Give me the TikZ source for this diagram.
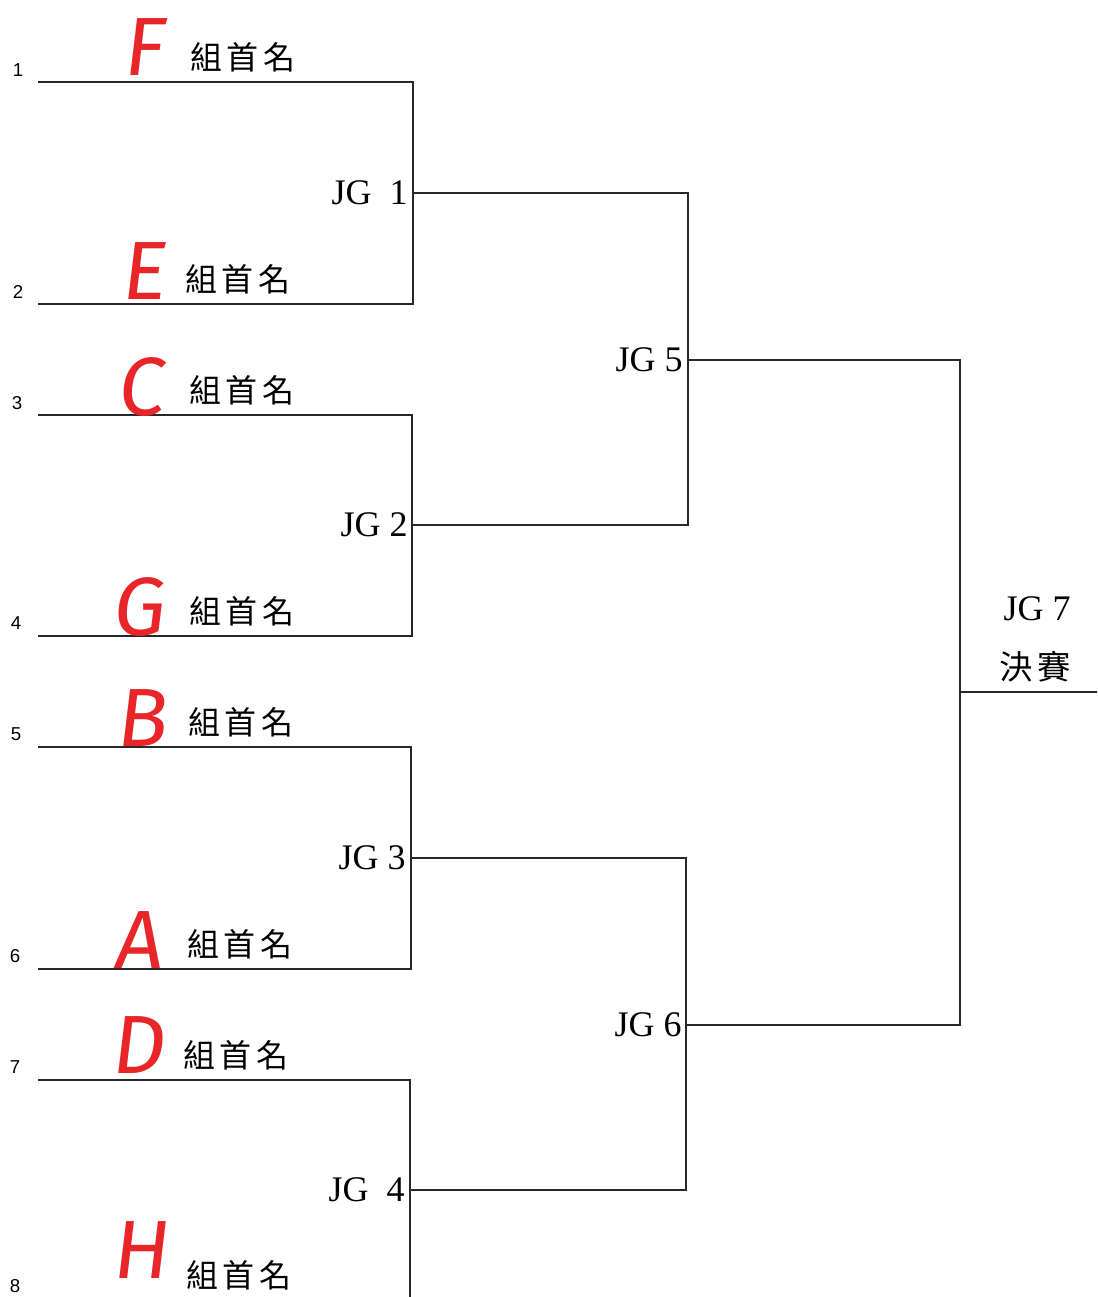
\documentclass[tikz,border=0pt]{standalone}
\usepackage{fontspec}
\setmainfont{Liberation Serif}
\newfontfamily\numfont{Liberation Sans}
\newfontfamily\cjk{Noto Sans CJK TC}
\newfontfamily\handfont[FakeSlant=0.12]{Fira Sans}
\definecolor{marker}{RGB}{232,38,42}
\definecolor{ink}{RGB}{40,40,40}
\newcommand{\zsm}{組\hspace{3.5pt}首\hspace{3.5pt}名}
\tikzset{
  wire/.style={draw=ink, line width=1.1pt},
  num/.style={font=\numfont\fontsize{14}{14}\selectfont, inner sep=0pt},
  team/.style={font=\handfont\fontsize{62}{62}\selectfont, text=marker, inner sep=0pt},
  tname/.style={font=\cjk\fontsize{24}{24}\selectfont, inner sep=0pt},
  jg/.style={font=\fontsize{27}{27}\selectfont, inner sep=0pt, anchor=east},
}
\begin{document}
\begin{tikzpicture}[x=0.75pt,y=-0.75pt]
\clip (0,0) rectangle (1097,1297);
\useasboundingbox (0,0) rectangle (1097,1297);
\fill[white] (0,0) rectangle (1097,1297);
% round 1 line coordinates
\coordinate (s1) at (38,82);   \coordinate (e1) at (413,82);
\coordinate (s2) at (38,304);  \coordinate (e2) at (413,304);
\coordinate (s3) at (38,415);  \coordinate (e3) at (412,415);
\coordinate (s4) at (38,636);  \coordinate (e4) at (412,636);
\coordinate (s5) at (38,747);  \coordinate (e5) at (411,747);
\coordinate (s6) at (38,969);  \coordinate (e6) at (411,969);
\coordinate (s7) at (38,1080); \coordinate (e7) at (410,1080);
\coordinate (s8) at (38,1302); \coordinate (e8) at (410,1302);
% game points
\coordinate (g1) at (413,193); \coordinate (g1e) at (688,193);
\coordinate (g2) at (412,525); \coordinate (g2e) at (688,525);
\coordinate (g3) at (411,858); \coordinate (g3e) at (686,858);
\coordinate (g4) at (410,1190); \coordinate (g4e) at (686,1190);
\coordinate (g5) at (688,360); \coordinate (g5e) at (960,360);
\coordinate (g6) at (686,1025); \coordinate (g6e) at (960,1025);
\coordinate (g7) at (960,692); \coordinate (g7e) at (1100,692);
% bracket lines
\draw[wire] (s1) -- (e1) -- (e2) -- (s2);
\draw[wire] (s3) -- (e3) -- (e4) -- (s4);
\draw[wire] (s5) -- (e5) -- (e6) -- (s6);
\draw[wire] (s7) -- (e7) -- (e8) -- (s8);
\draw[wire] (g1) -- (g1e) -- (g2e) -- (g2);
\draw[wire] (g3) -- (g3e) -- (g4e) -- (g4);
\draw[wire] (g5) -- (g5e) -- (g6e) -- (g6);
\draw[wire] (g7) -- (g7e);
% seed numbers
\node[num] (n1) at (18,70) {1};
\node[num] (n2) at (18,292) {2};
\node[num] (n3) at (17,403) {3};
\node[num] (n4) at (16,623) {4};
\node[num] (n5) at (16,734) {5};
\node[num] (n6) at (15,956) {6};
\node[num] (n7) at (15,1067) {7};
\node[num] (n8) at (15,1286) {8};
% team letters
\node[team] (t1) at (143,47) {F};
\node[team] (t2) at (143,271) {E};
\node[team] (t3) at (140,387) {C};
\node[team] (t4) at (138,607) {G};
\node[team] (t5) at (141,718) {B};
\node[team] (t6) at (137,940) {A};
\node[team] (t7) at (137,1045) {D};
\node[team] (t8) at (140,1250) {H};
% team names
\node[tname] (c1) at (243,57) {\zsm};
\node[tname] (c2) at (238,279) {\zsm};
\node[tname] (c3) at (242,390) {\zsm};
\node[tname] (c4) at (242,611) {\zsm};
\node[tname] (c5) at (241,722) {\zsm};
\node[tname] (c6) at (240,944) {\zsm};
\node[tname] (c7) at (236,1055) {\zsm};
\node[tname] (c8) at (239,1275) {\zsm};
% game labels
\node[jg] (j1) at (408,193) {JG\ \ 1};
\node[jg] (j2) at (408,525) {JG 2};
\node[jg] (j3) at (406,858) {JG 3};
\node[jg] (j4) at (405,1190) {JG\ \ 4};
\node[jg] (j5) at (683,360) {JG 5};
\node[jg] (j6) at (682,1025) {JG 6};
\node[jg] (j7) at (1071,609) {JG 7};
\node[font=\cjk\fontsize{25}{25}\selectfont, inner sep=0pt] (fin) at (1035,667) {決\hspace{3pt}賽};
\end{tikzpicture}
\end{document}
